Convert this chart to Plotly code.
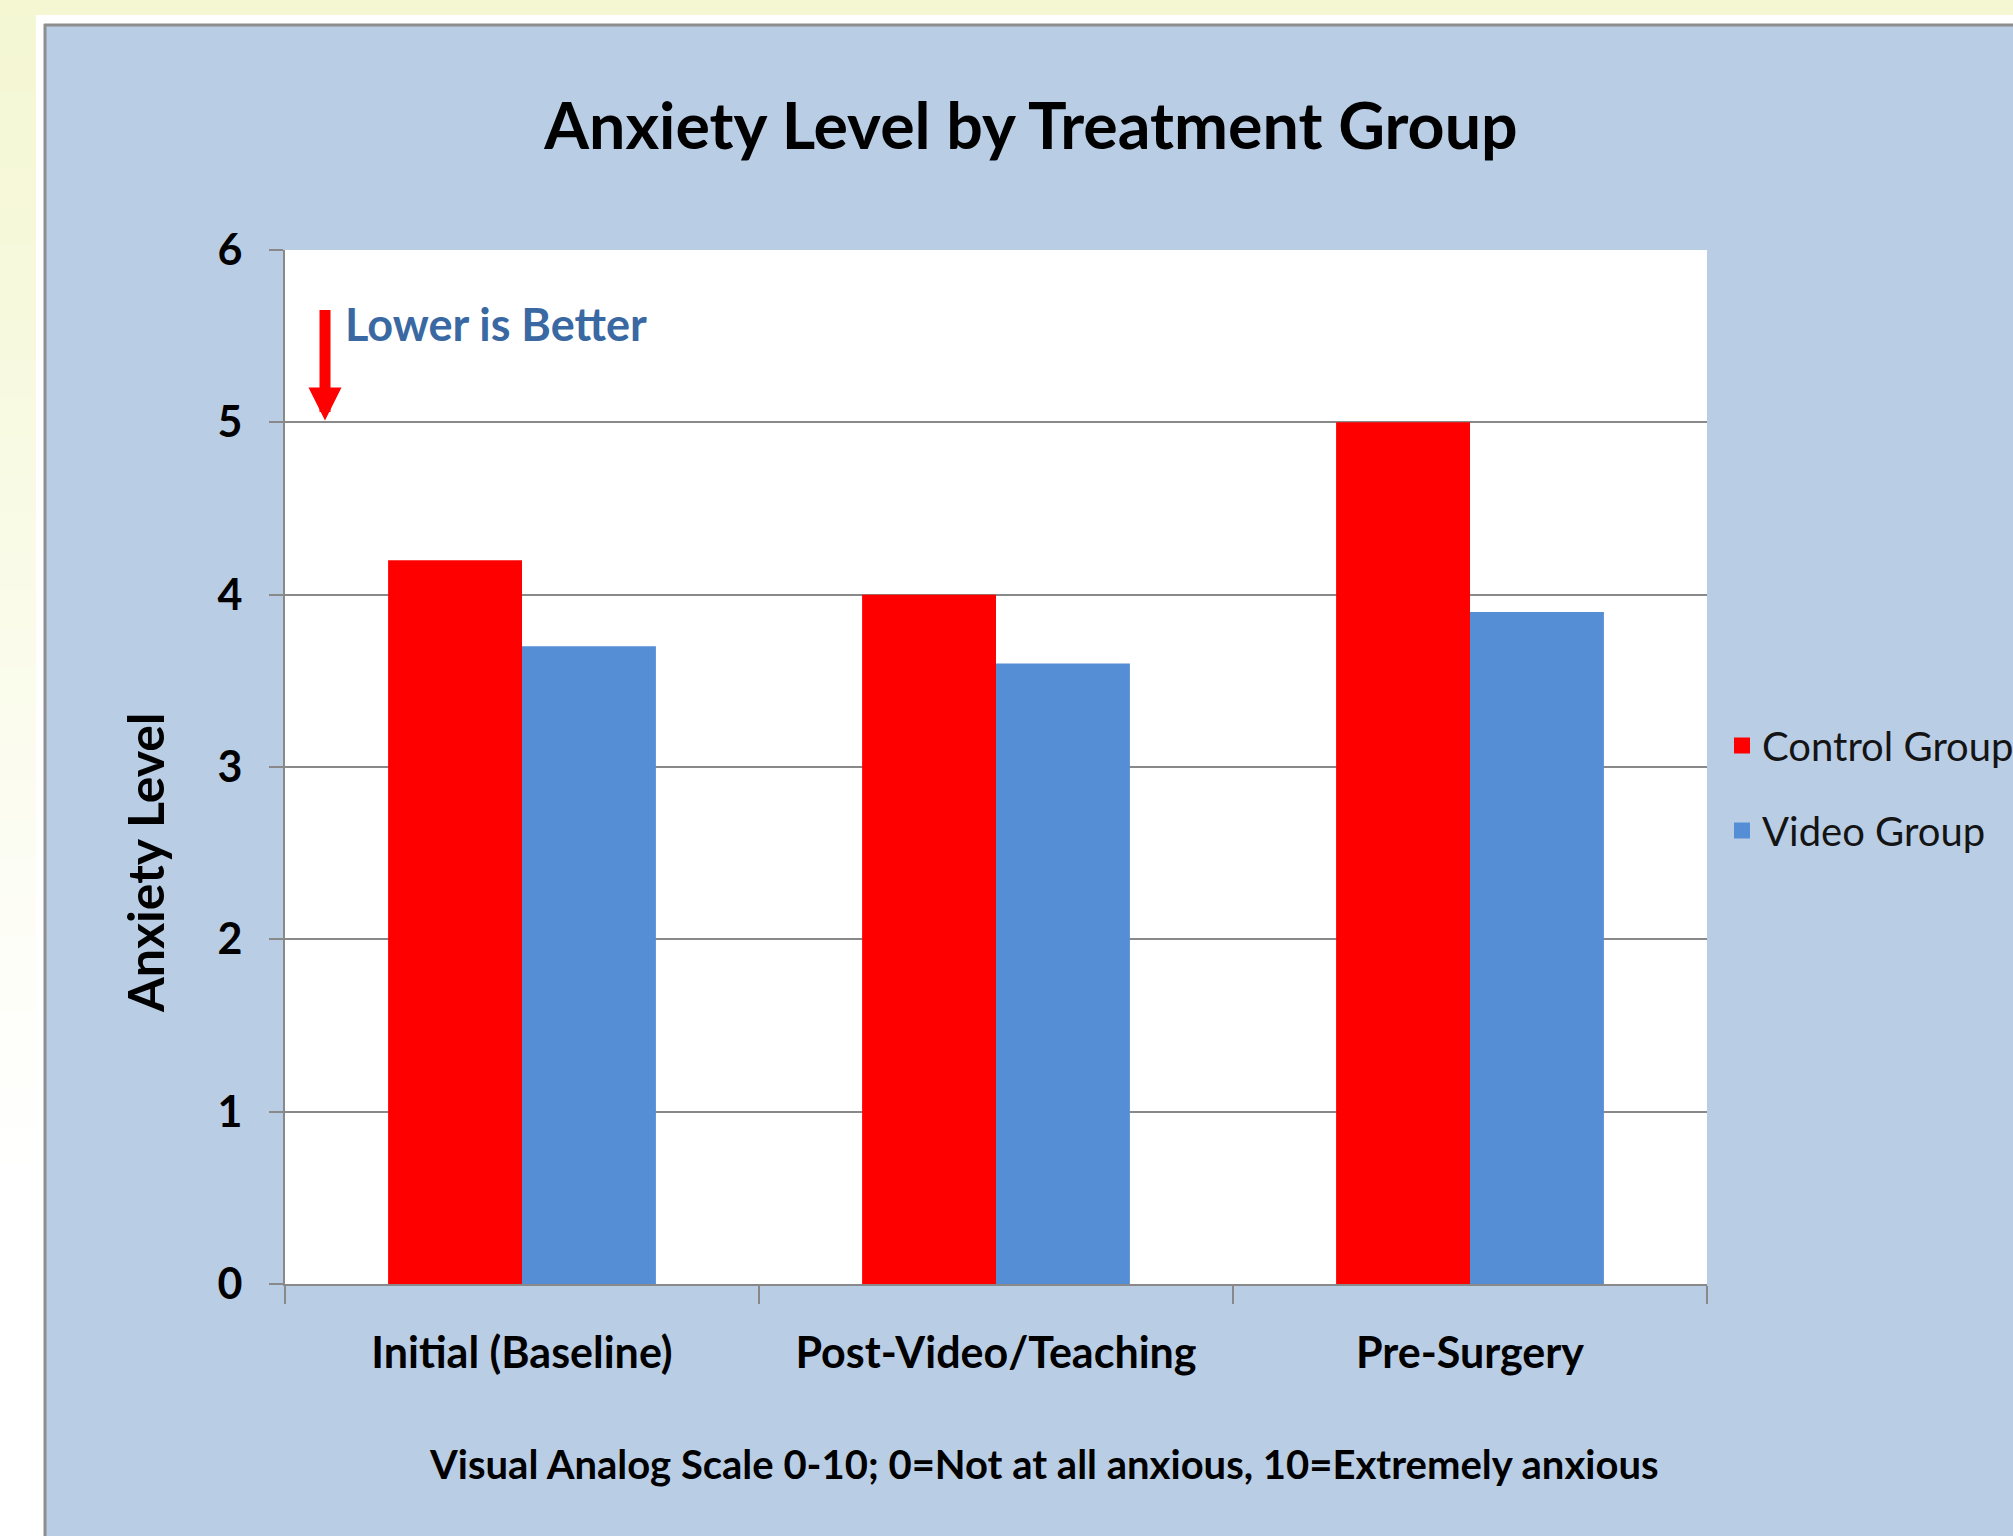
import plotly.graph_objects as go

# ---- data ----
categories = ["Initial (Baseline)", "Post-Video/Teaching", "Pre-Surgery"]
control_group = [4.2, 4.0, 5.0]
video_group = [3.7, 3.6, 3.9]
series_names = ["Control Group", "Video Group"]
y_ticks = [0, 1, 2, 3, 4, 5, 6]

# ---- geometry (pixels) ----
W, H = 2013, 1536
L, R, T, B = 285, 1707, 250, 1284  # plot area edges


def px(x):
    return (x - L) / (R - L)


def py(y):
    return (B - y) / (B - T)


FONT = "Lato"
GRID = "#898989"
RED = "#FF0000"
BLUE = "#558ED5"
BOX = "#B9CDE5"

fig = go.Figure()
fig.add_trace(go.Bar(x=categories, y=control_group, name=series_names[0],
                     marker=dict(color=RED, line=dict(width=0)), showlegend=False))
fig.add_trace(go.Bar(x=categories, y=video_group, name=series_names[1],
                     marker=dict(color=BLUE, line=dict(width=0)), showlegend=False))
# legend entries with larger square symbols
fig.add_trace(go.Scatter(x=[None], y=[None], mode="markers", name=series_names[0],
                         marker=dict(symbol="square", size=16, color=RED), legendgroup="a"))
fig.add_trace(go.Scatter(x=[None], y=[None], mode="markers", name=series_names[1],
                         marker=dict(symbol="square", size=16, color=BLUE), legendgroup="b"))


def rect(x0, y0, x1, y1, color):
    return dict(type="rect", xref="paper", yref="paper", x0=px(x0), x1=px(x1), y0=py(y0), y1=py(y1),
                fillcolor=color, line=dict(width=0), layer="below")


shapes = []
# white frame around the box
shapes.append(rect(36, 15, W + 10, 24, "#FFFFFF"))
shapes.append(rect(36, 15, 44, H + 10, "#FFFFFF"))
# top yellow band
shapes.append(rect(0, -5, W + 10, 15, "#F4F7D2"))
# left gradient strip
top = (0xF4, 0xF7, 0xD2)
n = 30
span = 1150
for i in range(n):
    y0 = 15 + i * span / n
    y1 = 15 + (i + 1) * span / n
    t = (i + 0.5) / n
    c = tuple(int(round(top[k] + (255 - top[k]) * t)) for k in range(3))
    shapes.append(rect(-5, y0, 36, y1 + 1, "rgb(%d,%d,%d)" % c))
shapes.append(rect(-5, 15 + span, 36, H + 10, "#FFFFFF"))
# box border lines
shapes.append(dict(type="line", xref="paper", yref="paper", x0=px(44), x1=px(W + 10), y0=py(25), y1=py(25),
                   line=dict(color="#8E8E8E", width=3), layer="below"))
shapes.append(dict(type="line", xref="paper", yref="paper", x0=px(45), x1=px(45), y0=py(24), y1=py(H + 10),
                   line=dict(color="#8E8E8E", width=3), layer="below"))

annotations = [
    dict(text="Lower is Better", xref="x", yref="y", x=-0.378, y=5.57, xanchor="left", yanchor="middle",
         showarrow=False, font=dict(family=FONT, size=45, weight="bold", color="#3A68A2")),
    dict(text="", xref="x", yref="y", x=-0.4156, y=5.01, ax=0, ay=-112, axref="pixel", ayref="pixel",
         showarrow=True, arrowhead=2, arrowsize=0.6, arrowwidth=11, arrowcolor=RED),
    dict(text="Visual Analog Scale 0-10; 0=Not at all anxious, 10=Extremely anxious",
         xref="paper", yref="paper", x=px(1044), y=py(1464), xanchor="center", yanchor="middle",
         showarrow=False, font=dict(family=FONT, size=40, weight="bold", color="#000000")),
    dict(text="Anxiety Level", xref="paper", yref="paper", x=px(145), y=py(863), textangle=-90,
         xanchor="center", yanchor="middle", showarrow=False,
         font=dict(family=FONT, size=50, weight="bold", color="#000000")),
]

fig.update_layout(
    width=W, height=H,
    margin=dict(l=L, r=W - R, t=T, b=H - B, autoexpand=False),
    paper_bgcolor=BOX,
    plot_bgcolor="#FFFFFF",
    barmode="group", bargap=0.435, bargroupgap=0,
    title=dict(text="Anxiety Level by Treatment Group", x=1031 / W, xanchor="center",
               y=1 - 126 / H, yanchor="middle", yref="container",
               font=dict(family=FONT, size=64.5, weight="bold", color="#000000")),
    shapes=shapes,
    annotations=annotations,
    legend=dict(x=px(1722), xanchor="left", y=py(788), yanchor="middle",
                font=dict(family=FONT, size=40, color="#141414"),
                bgcolor="rgba(0,0,0,0)", tracegroupgap=30, itemsizing="trace"),
    xaxis=dict(showline=True, linecolor=GRID, linewidth=2, ticks="outside", tickson="boundaries",
               ticklen=18, tickwidth=2, tickcolor=GRID, showgrid=False, range=[-0.5, 2.5],
               tickfont=dict(family=FONT, size=43, weight="bold", color="#000000"),
               ticklabelstandoff=30),
    yaxis=dict(range=[0, 6], tickvals=y_ticks, showgrid=True, gridcolor=GRID, gridwidth=2,
               showline=True, linecolor=GRID, linewidth=2, ticks="outside", ticklen=14, tickwidth=2,
               tickcolor=GRID, zeroline=False,
               tickfont=dict(family=FONT, size=43, weight="bold", color="#000000"),
               ticklabelstandoff=18),
)

fig.write_html("out.html")
